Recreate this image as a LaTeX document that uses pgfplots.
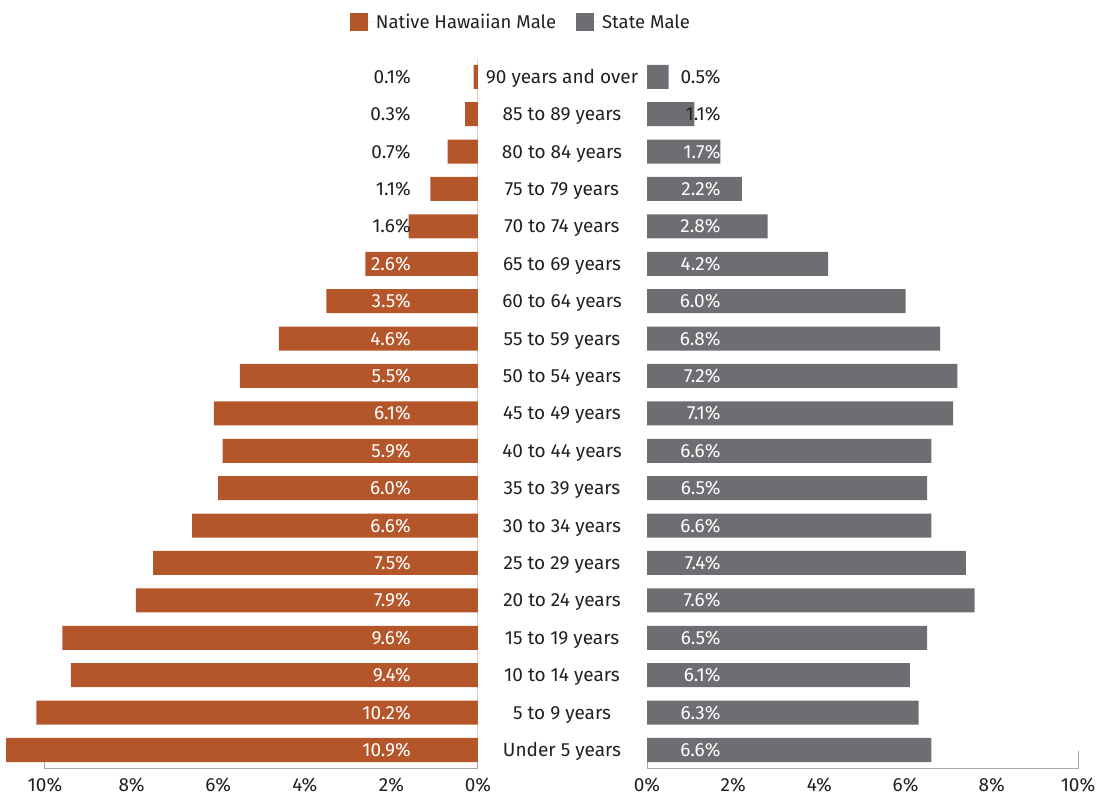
\documentclass[border=0pt]{standalone}
\usepackage{pgfplots}
\pgfplotsset{compat=1.18}
\usepackage{pgfplotstable}
\usepackage{fontspec}
\setmainfont{Fira Sans}
\definecolor{nhc}{HTML}{B5562A}
\definecolor{stc}{HTML}{6D6E71}
\definecolor{txt}{HTML}{231F20}
\definecolor{zl}{HTML}{F2CDB8}
\definecolor{axc}{HTML}{A8A8A8}

\pgfplotstableread{
idx nh st
0 10.9 6.6
1 10.2 6.3
2 9.4 6.1
3 9.6 6.5
4 7.9 7.6
5 7.5 7.4
6 6.6 6.6
7 6.0 6.5
8 5.9 6.6
9 6.1 7.1
10 5.5 7.2
11 4.6 6.8
12 3.5 6.0
13 2.6 4.2
14 1.6 2.8
15 1.1 2.2
16 0.7 1.7
17 0.3 1.1
18 0.1 0.5
}\datatable

\newcommand{\fs}{\fontsize{19}{22}\selectfont}

\pgfplotsset{
  common/.style={
    scale only axis, height=710.6pt, ymin=-0.5, ymax=18.5, xmin=0, xmax=10,
    axis line style={draw=none}, major tick length=0pt, ytick=\empty,
    xtick={0,2,...,10}, xticklabel={\pgfmathprintnumber{\tick}\%},
    /pgf/number format/assume math mode=true,
    ticklabel style={font=\fs, text=txt},
    xticklabel style={anchor=base, yshift=-23pt},
    clip=false,
  },
  vlab/.style={draw=none, mark=none, forget plot,
    nodes near coords={\pgfmathprintnumber[fixed,fixed zerofill,precision=1]{\pgfplotspointmeta}\%},
    point meta=explicit,
    every node near coord/.append style={anchor=base east, inner sep=0pt, yshift=-6.5pt, font=\fs, text=#1}},
}

\begin{document}
\begin{tikzpicture}
\useasboundingbox (0,0) rectangle (1100pt,795pt);
% left axis
\begin{axis}[common, width=433pt, x dir=reverse, at={(45pt,26.3pt)}, anchor=south west,
  legend style={draw=none, fill=none, at={(1.099,1.0508)}, anchor=center,
    legend columns=2, font=\fontsize{18.5}{22}\selectfont, text=txt,
    /tikz/every even column/.append style={column sep=18pt},
    legend cell align=left},
  legend image code/.code={\path (0pt,0pt) -- (24pt,0pt); \fill[#1, draw=none] (0pt,-9pt) rectangle (18pt,9pt);},
]
\draw[zl, line width=1pt] (axis cs:0,18.5) -- (axis cs:0,-0.5);
\draw[axc, line width=1pt] (axis cs:10,-0.02) -- (axis cs:10,-0.5) -- (axis cs:0,-0.5) -- (axis cs:0,-0.02);
\addplot[xbar, bar width=24pt, bar shift=0pt, fill=nhc, draw=none, forget plot] table[x=nh, y=idx] {\datatable};
\addplot[vlab=white, skip coords between index={14}{19}] table[x expr=1.55, y=idx, meta=nh] {\datatable};
\addplot[vlab=txt, skip coords between index={0}{14}] table[x expr=1.55, y=idx, meta=nh] {\datatable};
\addlegendimage{fill=nhc, draw=none}
\addlegendentry{Native Hawaiian Male}
\addlegendimage{fill=stc, draw=none}
\addlegendentry{State Male}
\end{axis}
% right axis
\begin{axis}[common, width=431pt, at={(647pt,26.3pt)}, anchor=south west,
  ytick={0,...,18},
  yticklabels={Under 5 years,5 to 9 years,10 to 14 years,15 to 19 years,20 to 24 years,25 to 29 years,30 to 34 years,35 to 39 years,40 to 44 years,45 to 49 years,50 to 54 years,55 to 59 years,60 to 64 years,65 to 69 years,70 to 74 years,75 to 79 years,80 to 84 years,85 to 89 years,90 years and over},
  yticklabel style={anchor=base, xshift=-85pt, yshift=-6.5pt},
]
\draw[axc, line width=1pt] (axis cs:10,-0.02) -- (axis cs:10,-0.5) -- (axis cs:0,-0.5) -- (axis cs:0,-0.02);
\addplot[xbar, bar width=24pt, bar shift=0pt, fill=stc, draw=none, forget plot] table[x=st, y=idx] {\datatable};
\addplot[vlab=white, skip coords between index={17}{19}] table[x expr=1.71, y=idx, meta=st] {\datatable};
\addplot[vlab=txt, skip coords between index={0}{17}] table[x expr=1.71, y=idx, meta=st] {\datatable};
\end{axis}
\end{tikzpicture}
\end{document}
